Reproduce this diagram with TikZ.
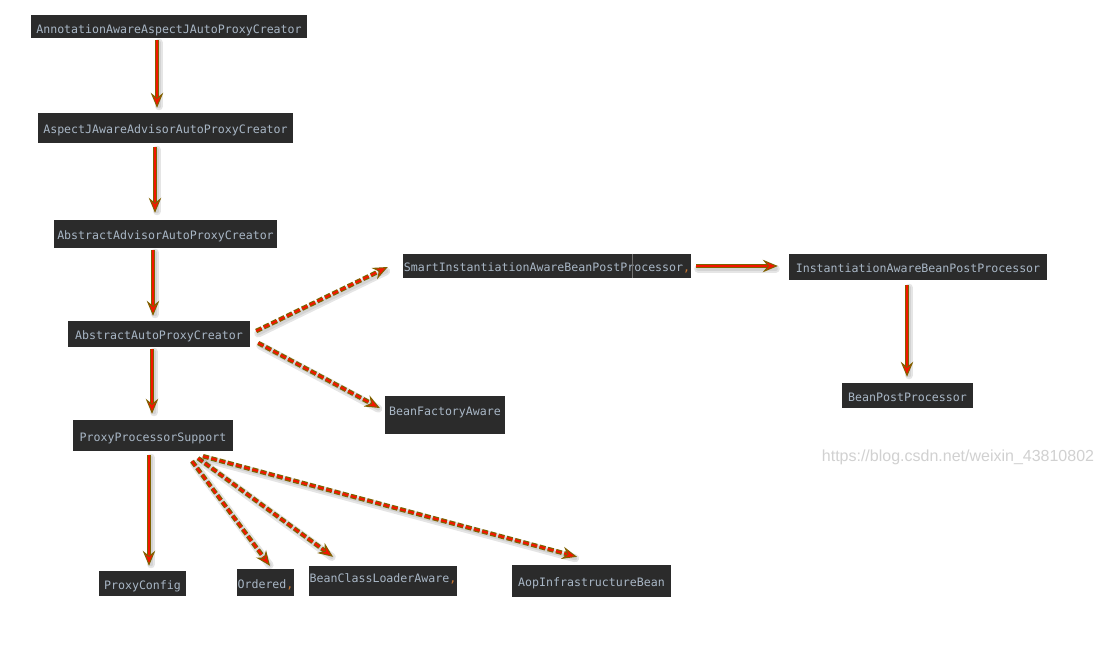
\documentclass[tikz,border=0pt]{standalone}
\usepackage{fontspec}
\newfontfamily\monofont{DejaVu Sans Mono}
\newfontfamily\wmfont{Liberation Sans}
\usetikzlibrary{arrows.meta}
\definecolor{boxbg}{HTML}{2B2B2B}
\definecolor{boxtxt}{HTML}{A9B7C6}
\definecolor{comma}{HTML}{CC7832}
\definecolor{olv}{HTML}{7F6200}
\definecolor{arrred}{HTML}{F51500}
\newcommand{\cm}{\textcolor{comma}{,}}
\tikzset{
  cls/.style={fill=boxbg, text=boxtxt, font=\monofont\fontsize{11.6}{13}\selectfont, inner sep=0pt, anchor=center, text height=13.6pt, text depth=2pt},
  tipstyle/.style={-{Stealth[length=15pt,width=12.5pt,inset=5pt,fill=arrred,color=olv,line width=1pt]}},
  shadowline/.style={draw=black, opacity=0.10, line width=8pt, line cap=round, shorten >=4pt, transform canvas={shift={(2pt,-2.5pt)}}},
  shadowline2/.style={draw=black, opacity=0.08, line width=4pt, line cap=round, shorten >=4pt, transform canvas={shift={(2pt,-2.5pt)}}},
  oliveline/.style={draw=olv, line width=4.5pt, shorten >=10pt},
  redline/.style={draw=arrred, line width=2pt, tipstyle},
  dpat/.style={dash pattern=on 6pt off 2.5pt},
  spat/.style={solid},
}
% connector drawn in layers: shadow, olive border, red core with tip
\newcommand{\conn}[3]{%
  \draw[shadowline,solid] #2 -- #3;
  \draw[shadowline2,solid] #2 -- #3;
  \draw[oliveline,#1] #2 -- #3;
  \draw[redline,#1] #2 -- #3;}
\begin{document}
\begin{tikzpicture}[x=1pt,y=-1pt]
\useasboundingbox[fill=white] (0,0) rectangle (1103,656);
% nodes
\node[cls, minimum width=276pt, minimum height=23pt] (n1) at (169,26.5) {\raisebox{-1pt}{AnnotationAwareAspectJAutoProxyCreator}};
\node[cls, minimum width=255pt, minimum height=30pt] (n2) at (165.5,128) {AspectJAwareAdvisorAutoProxyCreator};
\node[cls, minimum width=223pt, minimum height=28pt] (n3) at (165.5,234) {AbstractAdvisorAutoProxyCreator};
\node[cls, minimum width=182pt, minimum height=26pt] (n4) at (159,334) {AbstractAutoProxyCreator};
\node[cls, minimum width=160pt, minimum height=31pt] (n5) at (153,435.5) {ProxyProcessorSupport};
\node[cls, minimum width=87pt, minimum height=25pt] (pc) at (142.5,583.5) {ProxyConfig};
\node[cls, minimum width=57pt, minimum height=27pt] (ord) at (265.5,582.5) {Ordered\cm};
\node[cls, minimum width=148pt, minimum height=30pt] (bcl) at (383,581) {\raisebox{4.5pt}{BeanClassLoaderAware\cm}};
\node[cls, minimum width=159pt, minimum height=32pt] (aop) at (591.5,581) {AopInfrastructureBean};
\node[cls, minimum width=120pt, minimum height=38pt] (bfa) at (445,415) {\raisebox{5.5pt}{BeanFactoryAware}};
\node[cls, minimum width=288pt, minimum height=24pt] (smart) at (547,266) {SmartInstantiationAwareBeanPostProcessor\cm};
\node[cls, minimum width=258pt, minimum height=26pt] (inst) at (918,267) {InstantiationAwareBeanPostProcessor};
\node[cls, minimum width=131pt, minimum height=25pt] (bpp) at (907.5,395.5) {BeanPostProcessor};
\draw[black!55, line width=0.6pt] ([xshift=229pt]smart.north west) -- ([xshift=229pt]smart.south west);
% watermark
\node[text=black!18, font=\wmfont\fontsize{16}{18}\selectfont, anchor=center] (wm) at (958,457) {https://blog.csdn.net/weixin\_43810802};
% solid arrows
\conn{spat}{([xshift=-12pt,yshift=-2pt]n1.south)}{([xshift=-8.5pt,yshift=5pt]n2.north)}
\conn{spat}{([xshift=-10.5pt,yshift=-4pt]n2.south)}{([xshift=-10.5pt,yshift=7pt]n3.north)}
\conn{spat}{([xshift=-12.5pt,yshift=-2pt]n3.south)}{([xshift=-6pt,yshift=5pt]n4.north)}
\conn{spat}{([xshift=-7pt,yshift=-2pt]n4.south)}{([xshift=-1pt,yshift=6pt]n5.north)}
\conn{spat}{([xshift=-4pt,yshift=-4pt]n5.south)}{([xshift=6.5pt,yshift=5pt]pc.north)}
\conn{spat}{([xshift=5pt]smart.east)}{([xshift=-11pt,yshift=1pt]inst.west)}
\conn{spat}{([xshift=-11pt,yshift=-5pt]inst.south)}{([xshift=-0.5pt,yshift=6pt]bpp.north)}
% dashed arrows
\conn{dpat}{([xshift=6pt,yshift=3pt]n4.east)}{([xshift=-15pt,yshift=-1pt]smart.west)}
\conn{dpat}{([xshift=8pt,yshift=-9pt]n4.east)}{([xshift=-5pt,yshift=7pt]bfa.west)}
\conn{dpat}{([xshift=39pt,yshift=-10pt]n5.south)}{([xshift=4.5pt,yshift=3pt]ord.north)}
\conn{dpat}{([xshift=45pt,yshift=-7pt]n5.south)}{([xshift=-50pt,yshift=9pt]bcl.north)}
\conn{dpat}{([xshift=50pt,yshift=-5pt]n5.south)}{([xshift=-14.5pt,yshift=8pt]aop.north)}
\end{tikzpicture}
\end{document}
